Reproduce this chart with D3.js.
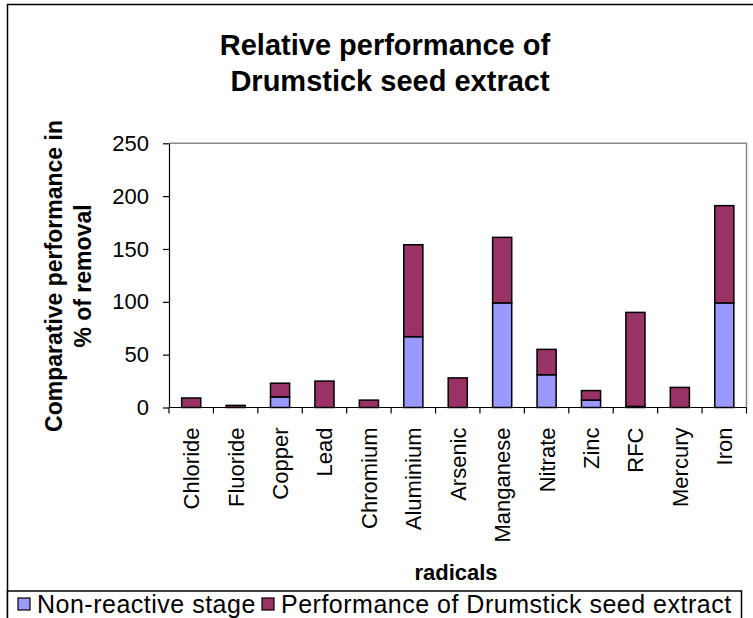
<!DOCTYPE html>
<html>
<meta charset="UTF-8">

<head>
  <script src="https://cdn.jsdelivr.net/npm/d3@7"></script>
  <style>
    body { margin: 0; }
    svg { font-family: "Liberation Sans", Arial, sans-serif; }
  </style>
</head>

<body>
  <svg width="753" height="618"></svg>

  <script type="text/javascript">
    const radicals = ["Chloride", "Fluoride", "Copper", "Lead", "Chromium", "Aluminium",
      "Arsenic", "Manganese", "Nitrate", "Zinc", "RFC", "Mercury", "Iron"]
    const nonReactive = [0, 0, 10, 0, 0, 67, 0, 99, 31, 7, 1, 0, 99]
    const drumstick = [9, 2, 13, 25, 7, 87, 28, 62, 24, 9, 89, 19, 92]
    const yTicks = [0, 50, 100, 150, 200, 250]
    const seriesNames = ["Non-reactive stage", "Performance of Drumstick seed extract"]
    const colors = ["#9999ff", "#993366"]

    const rows = radicals.map((r, i) => ({ radical: r, a: nonReactive[i], b: drumstick[i] }))

    const svg = d3.select("svg")
    const plotL = 169, plotR = 746.5, plotT = 143.3, plotB = 407.5

    // chart frame
    svg.append("rect").attr("x", 7.5).attr("y", 4.5).attr("width", 800).attr("height", 700)
      .style("fill", "white").style("stroke", "black").style("stroke-width", 1.5)

    const x = d3.scaleBand().domain(radicals).range([plotL, plotR])
      .paddingInner(0.57).paddingOuter(0.285)
    const cells = d3.scaleBand().domain(radicals).range([plotL, plotR])
    const y = d3.scaleLinear().domain([0, 250]).range([plotB, plotT])

    // plot area border (top / right)
    svg.append("path")
      .attr("d", `M${plotL},${plotT}H${plotR}V${plotB}`)
      .style("fill", "none").style("stroke", "#888").style("stroke-width", 1.5)

    const stack = d3.stack().keys(["a", "b"])(rows)

    svg.append("g").selectAll("g")
      .data(stack)
      .enter()
      .append("g")
      .style("fill", (d, i) => colors[i])
      .selectAll("rect")
      .data(d => d)
      .enter()
      .append("rect")
      .attr("x", d => x(d.data.radical))
      .attr("width", x.bandwidth())
      .attr("y", d => y(d[1]))
      .attr("height", d => y(d[0]) - y(d[1]))
      .style("stroke", "black")
      .style("stroke-width", 1.5)
      .style("display", d => d[1] - d[0] > 0 ? null : "none")

    // y axis
    const yAxis = svg.append("g")
      .attr("transform", `translate(${plotL},0)`)
      .call(d3.axisLeft(y).tickValues(yTicks).tickSize(6).tickPadding(14).tickSizeOuter(0))
    yAxis.selectAll("text").style("font-size", "22px").style("fill", "black")
      .style("font-family", "Liberation Sans, Arial, sans-serif")
    yAxis.selectAll("line, path").style("stroke", "black").style("stroke-width", 1.2)

    // x axis
    svg.append("line").attr("x1", plotL).attr("x2", plotR).attr("y1", plotB).attr("y2", plotB)
      .style("stroke", "black").style("stroke-width", 1.2)
    svg.append("g").selectAll("line")
      .data(radicals.map(r => cells(r)).concat([plotR]))
      .enter()
      .append("line")
      .attr("x1", d => d).attr("x2", d => d)
      .attr("y1", plotB).attr("y2", plotB + 6)
      .style("stroke", "black").style("stroke-width", 1.2)

    svg.append("g").selectAll("text")
      .data(radicals)
      .enter()
      .append("text")
      .attr("transform", d => `translate(${cells(d) + cells.bandwidth() / 2 + 8},${plotB + 20}) rotate(-90)`)
      .style("text-anchor", "end")
      .style("font-size", "22px")
      .text(d => d)

    // titles
    svg.append("text").attr("x", 385).attr("y", 55).style("text-anchor", "middle")
      .style("font-size", "29px").style("font-weight", "bold").text("Relative performance of")
    svg.append("text").attr("x", 390).attr("y", 91).style("text-anchor", "middle")
      .style("font-size", "29px").style("font-weight", "bold").text("Drumstick seed extract")

    svg.append("text").attr("transform", "translate(62,276) rotate(-90)").style("text-anchor", "middle")
      .style("font-size", "23px").style("font-weight", "bold").text("Comparative performance in")
    svg.append("text").attr("transform", "translate(91,276) rotate(-90)").style("text-anchor", "middle")
      .style("font-size", "23px").style("font-weight", "bold").text("% of removal")

    svg.append("text").attr("x", 456).attr("y", 580).style("text-anchor", "middle")
      .style("font-size", "22px").style("font-weight", "bold").text("radicals")

    // legend
    svg.append("rect").attr("x", 7.5).attr("y", 591).attr("width", 734).attr("height", 60)
      .style("fill", "white").style("stroke", "black").style("stroke-width", 1.5)
    const legendX = [18, 262]
    const legend = svg.append("g").selectAll("g")
      .data(seriesNames)
      .enter()
      .append("g")
      .attr("transform", (d, i) => `translate(${legendX[i]},598)`)
    legend.append("rect").attr("width", 12).attr("height", 12)
      .style("fill", (d, i) => colors[i]).style("stroke", "black").style("stroke-width", 1.2)
    legend.append("text").attr("x", 19).attr("y", 15)
      .style("font-size", "25px").style("letter-spacing", "0.5px").text(d => d)
  </script>
</body>

</html>
